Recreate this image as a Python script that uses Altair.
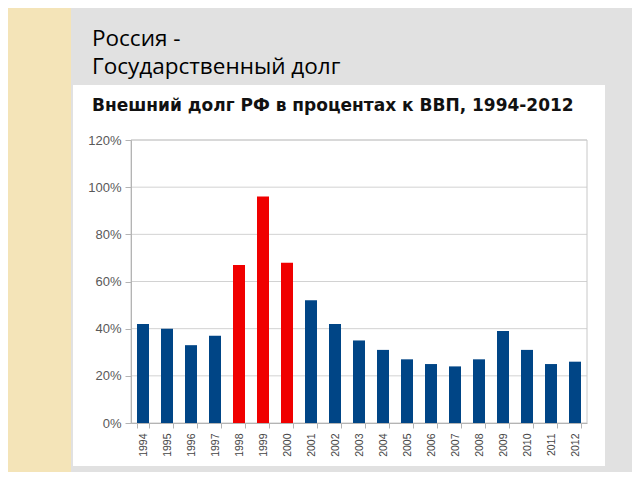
import altair as alt
import pandas as pd

years = [str(y) for y in range(1994, 2013)]
debt_pct = [42, 40, 33, 37, 67, 96, 68, 52, 42, 35, 31, 27, 25, 24, 27, 39, 31, 25, 26]
crisis_years = ["1998", "1999", "2000"]
y_ticks = [0, 20, 40, 60, 80, 100, 120]

slide_title = ["Россия -", "Государственный долг"]
chart_title = "Внешний долг РФ в процентах к ВВП, 1994-2012"

W, H = 456, 283

df = pd.DataFrame({"year": years, "value": debt_pct})
grid_df = pd.DataFrame({"tick": y_ticks[1:]})
one = alt.Data(values=[{}])

# decorative slide background pieces
strip = alt.Chart(one).mark_rect(color="#f4e4b8").encode(
    x=alt.value(-123), x2=alt.value(-60), y=alt.value(-132), y2=alt.value(332)
)
panel = alt.Chart(one).mark_rect(color="#ffffff").encode(
    x=alt.value(-58), x2=alt.value(474), y=alt.value(-55), y2=alt.value(326)
)
frame = alt.Chart(one).mark_rect(fill=None, stroke="#c8c8c8", strokeWidth=1).encode(
    x=alt.value(0), x2=alt.value(W), y=alt.value(0), y2=alt.value(H)
)

grid = alt.Chart(grid_df).mark_rule(color="#d2d2d2", strokeWidth=1).encode(
    y=alt.Y("tick:Q", scale=alt.Scale(domain=[0, 120]))
)

bars = alt.Chart(df).mark_bar().encode(
    x=alt.X(
        "year:N",
        sort=years,
        scale=alt.Scale(paddingInner=0.5, paddingOuter=0.25),
        axis=alt.Axis(
            title=None,
            labelAngle=270,
            labelFont="Liberation Sans",
            labelFontSize=10.5,
            labelColor="#444444",
            labelPadding=5,
            tickSize=5,
            tickBand="extent",
            tickColor="#b4b4b4",
            domainColor="#b4b4b4",
            grid=False,
            zindex=1,
        ),
    ),
    y=alt.Y(
        "value:Q",
        scale=alt.Scale(domain=[0, 120]),
        axis=alt.Axis(
            title=None,
            values=y_ticks,
            labelExpr="datum.value + '%'",
            labelFont="Liberation Sans",
            labelFontSize=13,
            labelColor="#595959",
            labelPadding=4,
            tickSize=6,
            tickColor="#b4b4b4",
            domainColor="#b4b4b4",
            grid=False,
            zindex=1,
        ),
    ),
    color=alt.condition(
        alt.FieldOneOfPredicate(field="year", oneOf=crisis_years),
        alt.value("#f00000"),
        alt.value("#004586"),
    ),
)

chart = alt.layer(strip, panel, grid, frame, bars).properties(
    width=W,
    height=H,
    autosize=alt.AutoSizeParams(type="none"),
    padding={"left": 123, "top": 132, "right": 45, "bottom": 49},
    title=alt.TitleParams(
        text=slide_title,
        subtitle=chart_title,
        anchor="start",
        frame="group",
        dx=-39,
        offset=-106,
        font="Open Sans",
        fontSize=22.5,
        fontWeight="normal",
        color="#000000",
        lineHeight=28,
        subtitleFont="DejaVu Sans",
        subtitleFontSize=17,
        subtitleFontWeight="bold",
        subtitleColor="#111111",
        subtitlePadding=20,
        zindex=1,
    ),
).configure(background="#e1e1e1").configure_view(stroke=None)

chart.save("out.html", embed_options={"renderer": "svg", "actions": False})
